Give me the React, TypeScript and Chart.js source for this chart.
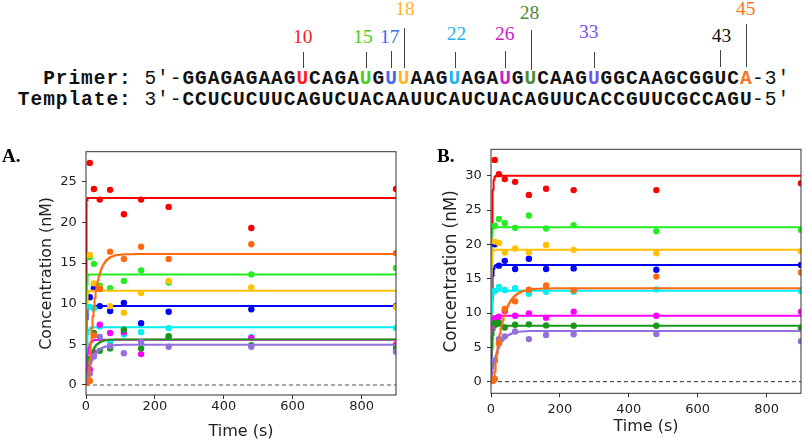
import React, { useEffect, useRef } from "react";
import { Chart, registerables } from "chart.js";

Chart.register(...registerables);

// ---------------- data ----------------
const TIMES = [5, 11, 23, 40, 70, 110, 160, 240, 480, 900];
const X_TICKS = [0, 200, 400, 600, 800];
const Y_TICKS_A = [0, 5, 10, 15, 20, 25];
const Y_TICKS_B = [0, 5, 10, 15, 20, 25, 30];

const SERIES_NAMES = ["U10", "U15", "U17", "U18", "U22", "U26", "U28", "U33", "A45"];
const SERIES_COLORS = ["#ff0000", "#22ee22", "#0000ff", "#ffc000", "#00f0f0", "#ff00ff", "#1a961a", "#9370db", "#ff6a10"];

// Panel A observed concentrations (nM), one value per entry of TIMES
const A_U10 = [null, 27.3, 24.1, 22.8, 24.0, 21.0, 22.8, 21.9, 19.3, 24.1];
const A_U15 = [null, 15.7, 14.9, 12.2, 11.9, 12.8, 14.1, 12.6, 13.6, 14.4];
const A_U17 = [null, 10.8, 11.9, 9.7, 9.1, 10.1, 7.6, 9.0, 9.3, 9.7];
const A_U18 = [null, 16.0, 12.5, 11.9, 9.7, 8.9, 11.3, 12.8, 12.0, 9.6];
const A_U22 = [null, 9.6, 9.4, 7.2, 5.3, 6.2, 6.5, 7.0, 5.9, 7.0];
const A_U26 = [null, 1.9, 4.0, 7.4, 6.4, 6.5, 3.8, 5.9, 5.8, 5.0];
const A_U28 = [null, 3.2, 6.4, 4.2, 4.5, 6.8, 4.5, 6.0, 4.9, 4.5];
const A_U33 = [null, 1.4, 3.5, 5.9, 4.8, 3.9, 5.3, 4.7, 4.7, 4.1];
const A_A45 = [null, 0.5, 6.1, 11.8, 16.4, 15.5, 17.0, 15.5, 17.3, 16.2];

// Panel A fitted curves: amplitude (nM), rate (1/s), lag (s)
const A_FIT_AMP = [23.0, 13.6, 9.7, 11.6, 7.1, 5.55, 5.6, 4.95, 16.1];
const A_FIT_RATE = [1.5, 0.8, 0.6, 0.6, 0.35, 0.2, 0.07, 0.055, 0.06];
const A_FIT_LAG = [0, 0, 0, 0, 0, 0, 0, 0, 8];

// Panel B observed concentrations (nM)
const B_U10 = [null, 32.3, 30.2, 29.5, 29.1, 27.2, 28.1, 27.9, 27.9, 28.9];
const B_U15 = [null, 22.7, 23.7, 23.1, 22.4, 24.2, 22.3, 22.8, 21.9, 22.1];
const B_U17 = [null, 20.0, 16.9, 17.6, 16.4, 17.9, 16.4, 16.5, 16.3, 17.0];
const B_U18 = [null, 20.4, 20.2, 18.8, 19.4, 18.8, 19.9, 19.2, 18.7, 19.0];
const B_U22 = [null, 13.2, 13.8, 13.35, 13.6, 12.8, 13.1, 13.1, 13.45, 13.2];
const B_U26 = [null, 9.2, 9.45, 10.3, 9.6, 9.95, 9.3, 10.2, 9.6, 10.2];
const B_U28 = [null, 8.5, 8.6, 7.9, 8.3, 8.35, 8.2, 8.15, 8.15, 7.85];
const B_U33 = [null, 3.1, 6.2, 6.6, 7.3, 6.2, 6.8, 6.9, 6.95, 5.9];
const B_A45 = [0.1, 0.4, 5.6, 10.6, 11.7, 13.4, 14.0, 13.3, 15.3, 15.9];

// Panel B fitted curves
const B_FIT_AMP = [30.0, 22.5, 17.0, 19.2, 13.25, 9.6, 8.15, 7.4, 13.6];
const B_FIT_RATE = [0.45, 1.0, 0.4, 0.8, 0.5, 0.35, 0.3, 0.05, 0.042];
const B_FIT_LAG = [0, 0, 0, 0, 0, 0, 0, 0, 9];

// Sequence header
const PRIMER_SEQ = "GGAGAGAAGUCAGAUGUUAAGUAGAUGUCAAGUGGCAAGCGGUCA";
const TEMPLATE_SEQ = "CCUCUCUUCAGUCUACAAUUCAUCUACAGUUCACCGUUCGCCAGU";
const SITE_POSITIONS = [10, 15, 17, 18, 22, 26, 28, 33, 43, 45];
const SITE_LABELS = ["10", "15", "17", "18", "22", "26", "28", "33", "43", "45"];
const SITE_COLORS = ["#ff1a1a", "#4ccc1e", "#3a6cf4", "#ffb428", "#1eb4e6", "#c81ec8", "#4e8a36", "#7452e8", "#111111", "#f07828"];

// ---------------- layout (not data) ----------------
const CHAR_W = 12.66;
const SEQ_LEFT = 182.4;
// per-site label baseline, label x shift, line top, line bottom
const SITE_LAYOUT = [
  { base: 43, dx: 0, top: 52, bot: 68 },
  { base: 43, dx: -3, top: 52, bot: 68 },
  { base: 43, dx: -1.5, top: 51, bot: 68 },
  { base: 15, dx: 1, top: 28, bot: 68 },
  { base: 40, dx: 2, top: 52, bot: 68 },
  { base: 40, dx: -0.6, top: 51, bot: 68 },
  { base: 19, dx: -1, top: 30, bot: 70 },
  { base: 38, dx: -5, top: 52, bot: 68 },
  { base: 42, dx: 1, top: 50, bot: 67 },
  { base: 15, dx: 0, top: 24, bot: 67 },
];

const FIT_T: number[] = [];
for (let t = 0; t < 30; t += 0.25) FIT_T.push(t);
for (let t = 30; t < 200; t += 1) FIT_T.push(t);
for (let t = 200; t <= 900; t += 10) FIT_T.push(t);

function fitCurve(amp: number, rate: number, lag: number) {
  return FIT_T.map((t) => ({ x: t, y: t <= lag ? 0 : amp * (1 - Math.exp(-rate * (t - lag))) }));
}

function obsPoints(vals: (number | null)[]) {
  const pts: { x: number; y: number }[] = [];
  vals.forEach((v, i) => {
    if (v !== null) pts.push({ x: TIMES[i], y: v });
  });
  return pts;
}

const framePlugin = {
  id: "frame",
  afterDraw(chart: any) {
    const { ctx, chartArea } = chart;
    ctx.save();
    ctx.strokeStyle = "#333";
    ctx.lineWidth = 1;
    ctx.strokeRect(chartArea.left, chartArea.top, chartArea.right - chartArea.left, chartArea.bottom - chartArea.top);
    ctx.restore();
  },
};

type PanelCfg = {
  obs: (number | null)[][];
  amp: number[];
  rate: number[];
  lag: number[];
  yMin: number;
  yMax: number;
  yTicks: number[];
  padTop: number;
  padRight: number;
  yWidth: number;
  xHeight: number;
  yTitlePad: number;
  yTitleSize: number;
  xTitlePad: number;
  xTickPad: number;
};

function buildConfig(p: PanelCfg): any {
  const datasets: any[] = [];
  for (let i = SERIES_NAMES.length - 1; i >= 0; i--) {
    datasets.push({
      label: SERIES_NAMES[i] + " fit",
      data: fitCurve(p.amp[i], p.rate[i], p.lag[i]),
      showLine: true,
      borderColor: SERIES_COLORS[i],
      borderWidth: 2,
      pointRadius: 0,
      tension: 0,
      clip: 0,
    });
    datasets.push({
      label: SERIES_NAMES[i],
      data: obsPoints(p.obs[i]),
      showLine: false,
      backgroundColor: SERIES_COLORS[i],
      borderWidth: 0,
      pointRadius: 3.2,
      clip: 0,
    });
  }
  datasets.push({
    label: "zero",
    data: [
      { x: 0, y: 0 },
      { x: 900, y: 0 },
    ],
    showLine: true,
    borderColor: "#555",
    borderWidth: 1.2,
    borderDash: [4, 3],
    pointRadius: 0,
    clip: 0,
  });

  const tickFont = { family: "DejaVu Sans", size: 13, lineHeight: 1 };
  return {
    type: "scatter",
    data: { datasets },
    options: {
      animation: false,
      responsive: false,
      devicePixelRatio: 1,
      layout: { padding: { left: 0, top: p.padTop, right: p.padRight, bottom: 0 } },
      plugins: { legend: { display: false }, tooltip: { enabled: false } },
      scales: {
        x: {
          type: "linear",
          min: 0,
          max: 900,
          afterBuildTicks: (s: any) => {
            s.ticks = X_TICKS.map((v) => ({ value: v }));
          },
          afterFit: (s: any) => {
            s.height = p.xHeight;
          },
          grid: { drawOnChartArea: false, drawTicks: true, tickLength: 4, color: "#333" },
          border: { display: false },
          ticks: { font: tickFont, color: "#222", padding: p.xTickPad, maxRotation: 0, autoSkip: false },
          title: {
            display: true,
            text: "Time (s)",
            color: "#222",
            font: { family: "DejaVu Sans", size: 16, lineHeight: 1 },
            padding: { top: 0, bottom: p.xTitlePad },
          },
        },
        y: {
          type: "linear",
          min: p.yMin,
          max: p.yMax,
          afterBuildTicks: (s: any) => {
            s.ticks = p.yTicks.map((v) => ({ value: v }));
          },
          afterFit: (s: any) => {
            s.width = p.yWidth;
          },
          grid: { drawOnChartArea: false, drawTicks: true, tickLength: 4, color: "#333" },
          border: { display: false },
          ticks: { font: tickFont, color: "#222", padding: 5.3, autoSkip: false },
          title: {
            display: true,
            text: "Concentration (nM)",
            color: "#222",
            font: { family: "DejaVu Sans", size: p.yTitleSize, lineHeight: 1 },
            padding: { top: p.yTitlePad, bottom: 0 },
          },
        },
      },
    },
    plugins: [framePlugin],
  };
}

function Panel({ cfg, left, width }: { cfg: PanelCfg; left: number; width: number }) {
  const ref = useRef<HTMLCanvasElement | null>(null);
  useEffect(() => {
    if (!ref.current) return;
    const chart = new Chart(ref.current, buildConfig(cfg));
    return () => chart.destroy();
  }, []);
  return (
    <canvas
      ref={ref}
      width={width}
      height={320}
      style={{ position: "absolute", left, top: 120, width, height: 320 }}
    />
  );
}

const PANEL_A: PanelCfg = {
  obs: [A_U10, A_U15, A_U17, A_U18, A_U22, A_U26, A_U28, A_U33, A_A45],
  amp: A_FIT_AMP,
  rate: A_FIT_RATE,
  lag: A_FIT_LAG,
  yMin: -1.23,
  yMax: 28.69,
  yTicks: Y_TICKS_A,
  padTop: 31.7,
  padRight: 3.3,
  yWidth: 86,
  xHeight: 45,
  yTitlePad: 38.7,
  yTitleSize: 15.8,
  xTitlePad: 0.3,
  xTickPad: 1.5,
};

const PANEL_B: PanelCfg = {
  obs: [B_U10, B_U15, B_U17, B_U18, B_U22, B_U26, B_U28, B_U33, B_A45],
  amp: B_FIT_AMP,
  rate: B_FIT_RATE,
  lag: B_FIT_LAG,
  yMin: -1.69,
  yMax: 33.84,
  yTicks: Y_TICKS_B,
  padTop: 29.3,
  padRight: 3.3,
  yWidth: 91,
  xHeight: 46.7,
  yTitlePad: 43.3,
  yTitleSize: 16.8,
  xTitlePad: 4.7,
  xTickPad: 5.5,
};

const MONO = "'Liberation Mono', 'DejaVu Sans Mono', monospace";
const SERIF = "'Liberation Serif', 'DejaVu Serif', serif";

function SeqRow({ seq, label, labelLeft, end5, end3, top }: { seq: string; label: string; labelLeft: number; end5: string; end3: string; top: number }) {
  const base: React.CSSProperties = {
    position: "absolute",
    top,
    fontFamily: MONO,
    fontSize: 19.5,
    lineHeight: "19.5px",
    letterSpacing: "0.96px",
    whiteSpace: "pre",
    color: "#111",
  };
  const colored = label === "Primer:";
  return (
    <>
      <div style={{ ...base, left: labelLeft, fontWeight: 700 }}>{label}</div>
      <div style={{ ...base, left: SEQ_LEFT - 3 * CHAR_W }}>{end5}</div>
      <div style={{ ...base, left: SEQ_LEFT - CHAR_W }}>-</div>
      <div style={{ ...base, left: SEQ_LEFT, fontWeight: 700 }}>
        {seq.split("").map((c, i) => {
          const k = colored ? SITE_POSITIONS.indexOf(i + 1) : -1;
          return (
            <span key={i} style={{ color: k >= 0 ? SITE_COLORS[k] : "#111" }}>
              {c}
            </span>
          );
        })}
      </div>
      <div style={{ ...base, left: SEQ_LEFT + seq.length * CHAR_W }}>-</div>
      <div style={{ ...base, left: SEQ_LEFT + (seq.length + 1) * CHAR_W }}>{end3}</div>
    </>
  );
}

export default function App() {
  return (
    <div style={{ position: "absolute", left: 0, top: 0, width: 805, height: 440, background: "#fff", overflow: "hidden" }}>
      {SITE_POSITIONS.map((pos, i) => {
        const cx = SEQ_LEFT + (pos - 0.5) * CHAR_W;
        const L = SITE_LAYOUT[i];
        return (
          <React.Fragment key={pos}>
            <div
              style={{
                position: "absolute",
                left: cx + L.dx - 25,
                width: 50,
                textAlign: "center",
                top: L.base - 16.3,
                fontFamily: SERIF,
                fontSize: 19.5,
                lineHeight: "19.5px",
                color: SITE_COLORS[i],
              }}
            >
              {SITE_LABELS[i]}
            </div>
            <div
              style={{
                position: "absolute",
                left: Math.round(cx) - 0.5,
                top: L.top,
                width: 1,
                height: L.bot - L.top,
                background: "#444",
              }}
            />
          </React.Fragment>
        );
      })}
      <SeqRow seq={PRIMER_SEQ} label="Primer:" labelLeft={SEQ_LEFT - 11 * CHAR_W} end5={"5\u2032"} end3={"3\u2032"} top={70.3} />
      <SeqRow seq={TEMPLATE_SEQ} label="Template:" labelLeft={SEQ_LEFT - 13 * CHAR_W} end5={"3\u2032"} end3={"5\u2032"} top={91.3} />

      <Panel cfg={PANEL_A} left={0} width={400} />
      <Panel cfg={PANEL_B} left={400} width={405} />

      <div style={{ position: "absolute", left: 2, top: 146, fontFamily: SERIF, fontWeight: 700, fontSize: 19, lineHeight: "19px", color: "#000" }}>A.</div>
      <div style={{ position: "absolute", left: 437, top: 146, fontFamily: SERIF, fontWeight: 700, fontSize: 19, lineHeight: "19px", color: "#000" }}>B.</div>
    </div>
  );
}
